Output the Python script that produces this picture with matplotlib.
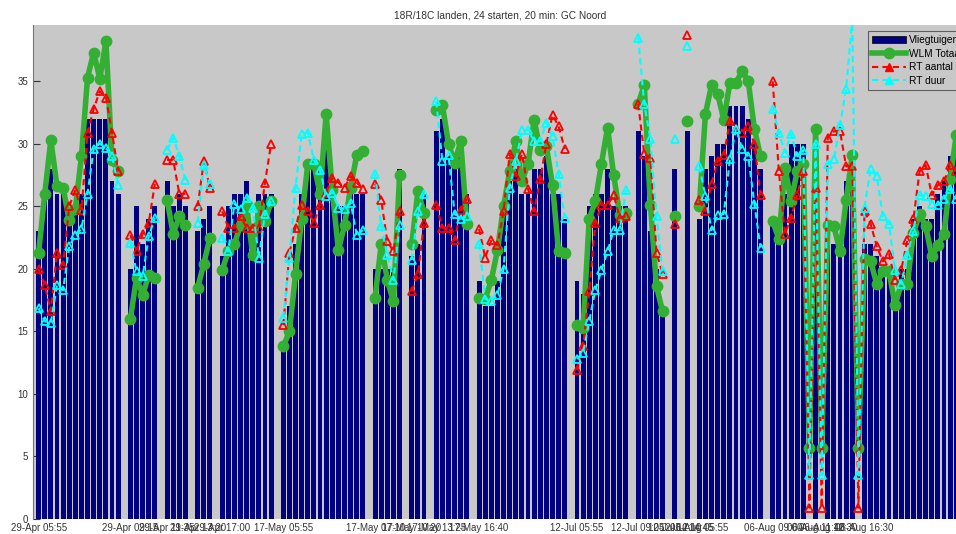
import numpy as np
import matplotlib
matplotlib.use("Agg")
import matplotlib.pyplot as plt
from matplotlib.patches import Patch
from matplotlib.lines import Line2D

plt.rcParams["font.family"] = ["Liberation Sans", "DejaVu Sans"]

nan = np.nan

# aircraft per 20 min window (0 = no data)
vliegtuigen = [
    23, 26, 28, 26, 26, 24, 25, 26, 32, 32, 32, 32, 27, 26, 0,
    20, 25, 22, 24, 25, 0, 27, 25, 26, 25, 0, 23, 24, 25, 0,
    21, 25, 26, 26, 27, 21, 26, 26, 26, 0,
    14, 17, 22, 26, 28, 28, 28, 30, 27, 25, 25, 26, 26, 26, 0,
    20, 20, 20, 20, 28, 0, 21, 22, 26, 0, 31, 32, 29, 29, 29, 26, 0,
    19, 17, 17, 19, 25, 27, 28, 26, 26, 28, 28, 29, 26, 26, 24, 0,
    19, 18, 25, 26, 26, 28, 25, 25, 25, 0, 31, 29, 23, 20, 17, 0,
    28, 0, 31, 0,
    24, 28, 29, 30, 30, 33, 33, 33, 32, 30, 28, 0,
    24, 24, 26, 30, 30, 30, 0, 29, 0, 22, 22, 22, 27, 27, 0,
    22, 22, 21, 20, 20, 18, 20, 20, 24, 25, 24, 24, 26, 27, 29, 29, 28,
]

wlm_totaal = [
    21.3, 26.0, 30.3, 26.6, 26.5, 23.9, 24.8, 29.0, 35.3, 37.3, 35.2, 38.2, 28.7, 27.8, nan,
    16.0, 19.3, 17.9, 19.5, 19.3, nan, 25.5, 22.8, 24.2, 23.5, nan, 18.5, 20.4, 22.5, nan,
    19.9, 21.4, 22.0, 23.5, 25.1, 21.1, 25.0, 23.8, 25.4, nan,
    13.8, 15.0, 19.6, 24.0, 28.4, 28.4, 26.0, 32.4, 26.3, 21.5, 23.5, 26.5, 29.1, 29.4, nan,
    17.7, 22.0, 19.1, 17.4, 27.5, nan, 22.0, 26.2, 24.5, nan, 32.7, 33.1, 30.0, 28.5, 30.2, 23.6, nan,
    17.7, 17.6, 19.1, 21.5, 25.0, 27.8, 30.2, 27.0, 28.4, 31.9, 29.5, 29.8, 26.7, 21.4, 21.3, nan,
    15.5, 15.25, 24.0, 25.4, 28.4, 31.3, 27.5, 24.3, 24.5, nan, 33.2, 34.7, 25.1, 18.6, 16.6, nan,
    24.2, nan, 31.8, nan,
    25.0, 32.4, 34.7, 34.0, 31.9, 34.9, 34.9, 35.8, 35.0, 31.2, 29.0, nan,
    23.8, 22.4, 28.1, 25.4, 27.8, 28.4, 5.7, 31.2, 5.7, 23.5, 23.4, 21.4, 25.5, 29.1, 5.7,
    20.8, 20.6, 18.8, 19.8, 19.8, 17.1, 18.8, 18.8, 22.9, 24.4, 23.4, 21.0, 21.9, 22.8, 27.2, 30.7, 30.0,
]

rt_aantal = [
    20.0, 18.7, 16.6, 21.3, 20.3, 25.0, 26.3, 24.7, 30.9, 32.8, 34.2, 33.7, 30.9, 27.8, nan,
    22.7, 21.4, 22.8, 23.7, 26.8, nan, 28.7, 28.7, 26.0, 26.0, nan, 25.0, 28.6, 26.5, nan,
    24.6, 23.3, 23.3, 24.2, 23.3, 23.3, 23.3, 26.9, 30.0, nan,
    15.5, 21.3, 23.3, 25.1, 24.6, 23.7, 25.1, 26.1, 27.3, 26.9, 26.5, 27.4, 26.9, 26.4, nan,
    26.8, 25.5, 22.2, 21.4, 24.6, nan, 18.2, 19.6, 23.7, nan, 25.1, 23.3, 23.3, 22.3, 24.7, 25.6, nan,
    23.2, 20.9, 22.3, 21.9, 24.6, 29.2, 27.4, 29.2, 26.4, 24.6, 27.2, 30.0, 32.3, 31.4, 29.6, nan,
    11.9, 13.8, 18.2, 23.7, 25.1, 25.1, 25.9, 24.1, 24.2, nan, 33.2, 29.2, 28.9, 21.3, 19.6, nan,
    23.6, nan, 38.7, nan,
    25.5, 24.6, 26.8, 28.6, 29.1, 31.8, 31.2, 30.9, 31.4, 30.0, 25.9, nan,
    35.0, 27.8, 22.8, 24.1, 25.9, 27.8, 0.9, 26.5, 0.9, 30.5, 31.0, 31.0, 28.2, 28.2, 0.9,
    24.6, 23.6, 21.8, 20.6, 21.2, 19.1, 19.9, 22.3, 24.0, 27.8, 28.3, 25.9, 26.7, 27.0, 28.3, 27.8, 28.0,
]

rt_duur = [
    16.85, 15.8, 15.7, 18.7, 18.3, 21.8, 22.7, 23.2, 26.0, 29.6, 30.0, 29.65, 29.0, 26.7, nan,
    22.1, 19.8, 19.4, 22.6, 24.1, nan, 29.5, 30.5, 29.0, 27.1, nan, 23.7, 28.3, 26.8, nan,
    22.5, 21.4, 25.2, 24.8, 25.7, 24.9, 20.9, 24.4, 25.4, nan,
    16.1, 20.9, 26.5, 30.8, 30.9, 28.7, 27.9, 25.8, 26.1, 24.9, 24.8, 25.3, 22.7, 23.1, nan,
    27.6, 23.4, 21.1, 19.1, 23.5, nan, 20.7, 24.6, 26.0, nan, 33.4, 28.6, 29.1, 24.4, 24.0, 24.2, nan,
    22.0, 17.6, 17.4, 17.9, 20.0, 26.5, 28.6, 31.1, 31.1, 30.2, 30.2, 31.7, 30.6, 27.6, 24.1, nan,
    12.8, 13.3, 15.8, 18.3, 19.9, 21.4, 23.1, 23.1, 26.3, nan, 38.5, 33.2, 30.4, 24.2, 19.8, nan,
    30.4, nan, 37.8, nan,
    28.2, 25.8, 23.1, 24.3, 24.4, 28.8, 31.2, 29.6, 29.0, 25.2, 21.7, nan,
    32.8, 30.9, 29.3, 30.8, 29.0, 29.5, 3.5, 30.0, 3.5, 28.4, 28.8, 31.5, 34.4, 40.0, 3.5,
    24.9, 28.0, 27.4, 24.2, 23.6, 19.9, 18.8, 21.1, 23.0, 25.9, 25.8, 25.2, 25.1, 25.6, 26.4, 25.6, 26.0,
]

tick_pos = [1, 16, 22, 27, 31, 41, 56, 62, 66, 73, 89, 99, 105, 107, 109, 121, 128, 130, 136]
tick_labels = [
    "29-Apr 05:55", "29-Apr 09:15", "29-Apr 11:35", "29-Apr 13:20", "29-Apr 17:00",
    "17-May 05:55", "17-May 07:10", "17-May 10:20", "17-May 13:25", "17-May 16:40",
    "12-Jul 05:55", "12-Jul 09:05", "12-Jul 12:10", "12-Jul 14:45", "06-Aug 05:55",
    "06-Aug 09:00", "06-Aug 11:40", "06-Aug 12:30", "06-Aug 16:30",
]

n = len(vliegtuigen)
x = np.arange(1, n + 1)

W, H = 956, 534
fig = plt.figure(figsize=(W / 100, H / 100), dpi=100)
ax = fig.add_axes([32.5 / W, 15 / H, 936 / W, 494 / H])
ax.set_facecolor("#c8c8c8")

green = "#33b033"
ax.bar(x, vliegtuigen, width=0.8, color="#000080", edgecolor="none", zorder=2)
ax.plot(x, wlm_totaal, color=green, lw=4, marker="o", ms=7.5, mfc=green, mec=green, zorder=3)
ax.plot(x, rt_aantal, color="red", lw=1.5, ls=(0, (3, 2)), marker="^", ms=5.5,
        mfc="none", mec="red", mew=1.3, zorder=4)
ax.plot(x, rt_duur, color="#00ffff", lw=1.5, ls=(0, (3, 2)), marker="^", ms=5.5,
        mfc="none", mec="#00ffff", mew=1.3, zorder=5)

ax.set_xlim(0, n + 1)
ax.set_ylim(0, 39.5)
ax.set_yticks(range(0, 40, 5))
ax.set_xticks(tick_pos)
ax.set_xticklabels(tick_labels)
ax.tick_params(axis="y", direction="in", length=5, labelsize=7, colors="#333333", pad=3)
ax.tick_params(axis="x", length=0, labelsize=7, colors="#333333", pad=3)
for side in ("top", "right", "bottom"):
    ax.spines[side].set_visible(False)
ax.spines["left"].set_color("#777777")

ax.set_title("18R/18C landen, 24 starten, 20 min: GC Noord", fontsize=7.3, color="#333333", pad=5)

handles = [
    Patch(facecolor="#000080", edgecolor="#000000", lw=0.5),
    Line2D([], [], color=green, lw=4, marker="o", ms=7.5),
    Line2D([], [], color="red", lw=1.5, ls=(0, (3, 2)), marker="^", ms=5.5),
    Line2D([], [], color="#00ffff", lw=1.5, ls=(0, (3, 2)), marker="^", ms=5.5),
]
leg = fig.legend(handles, ["Vliegtuigen", "WLM Totaal", "RT aantal", "RT duur"],
                 loc="upper left", bbox_to_anchor=(868 / W, 1 - 31 / H), fontsize=7.3,
                 frameon=True, fancybox=False, borderaxespad=0, handlelength=3.3,
                 labelspacing=0.35, borderpad=0.4, handletextpad=0.3)
leg.get_frame().set_facecolor("#c8c8c8")
leg.get_frame().set_edgecolor("#444444")
leg.get_frame().set_linewidth(0.8)

fig.savefig("out.png", dpi=100)
